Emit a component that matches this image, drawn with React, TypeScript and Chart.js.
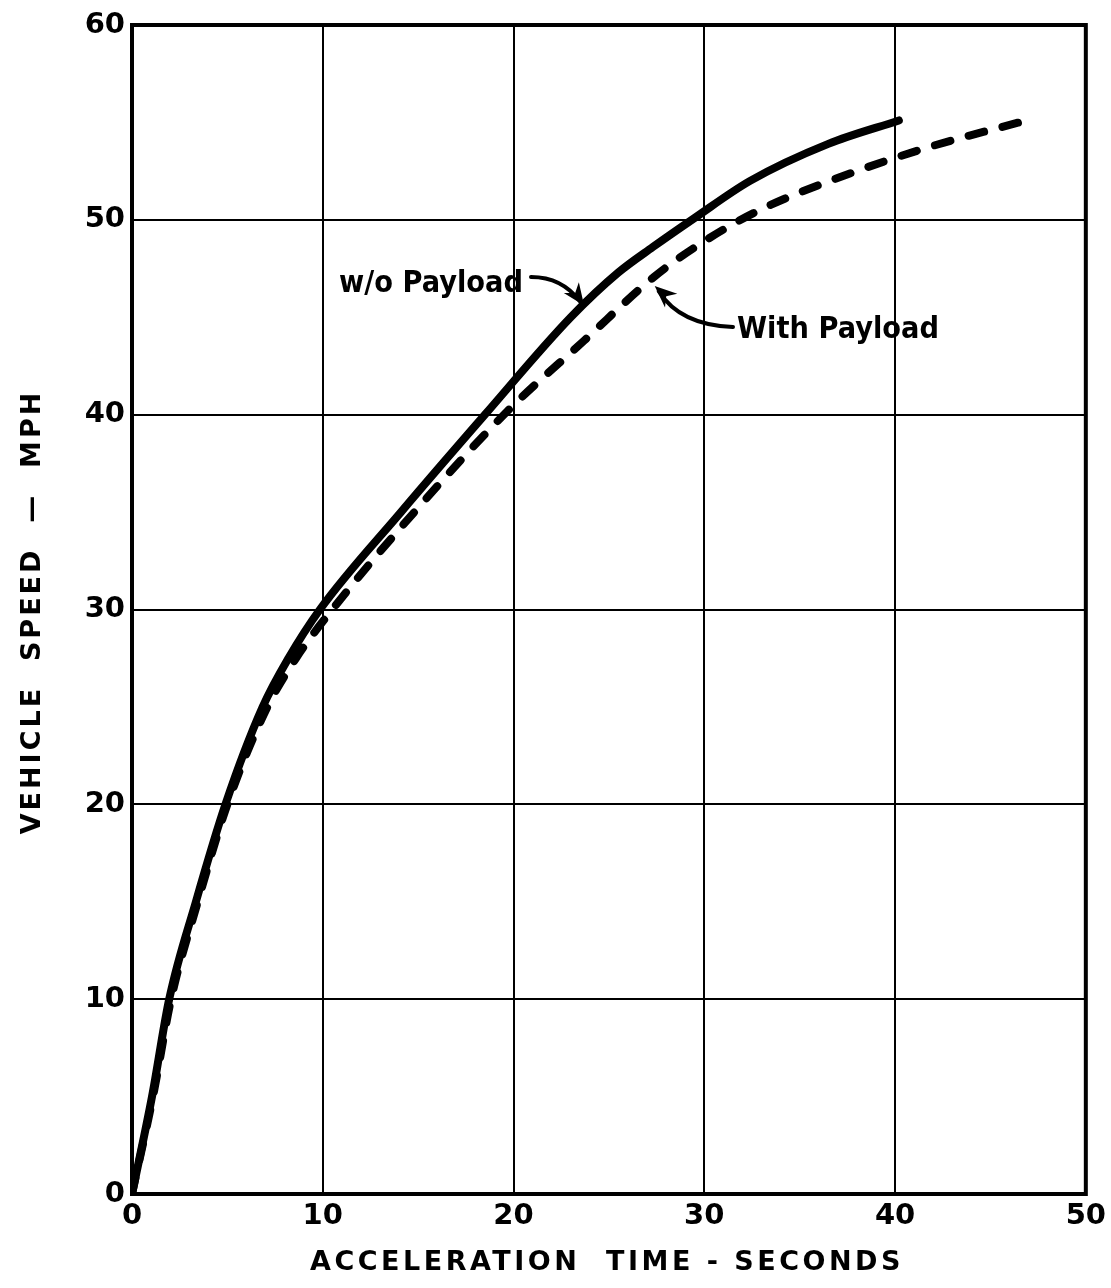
import React, { useEffect, useRef } from "react";
import { Chart, registerables } from "chart.js";

Chart.register(...registerables);

// Without payload (solid)
const timeNoPayload = [0, 1.05, 1.95, 3.35, 4.9, 6.85, 8.2, 9.85, 14.1, 18.5, 23, 25.5, 27.3, 29.5, 32.4, 36.5, 40.2];
const speedNoPayload = [0, 5, 10, 15, 20, 25, 27.5, 30, 35, 40, 45, 47.3, 48.6, 50.1, 52, 53.9, 55.1];

// With payload (dashed)
const timeWithPayload = [0, 1.1, 2.05, 3.45, 5.0, 7.1, 8.6, 10.5, 14.8, 19.7, 23.7, 27.4, 30, 32.9, 37.7, 42, 46.5];
const speedWithPayload = [0, 5, 10, 15, 20, 25, 27.5, 30, 35, 40.2, 43.8, 47.1, 48.9, 50.5, 52.4, 53.8, 55.0];

const xTicks = [0, 10, 20, 30, 40, 50];
const yTicks = [0, 10, 20, 30, 40, 50, 60];

const xTitle = "ACCELERATION  TIME - SECONDS";
const yTitle = "VEHICLE  SPEED  —  MPH";
const labelNoPayload = "w/o Payload";
const labelWithPayload = "With Payload";

const FONT = "'DejaVu Sans', sans-serif";

function drawArrowHead(ctx: CanvasRenderingContext2D, x: number, y: number, angle: number, size: number) {
  ctx.save();
  ctx.translate(x, y);
  ctx.rotate(angle);
  ctx.beginPath();
  ctx.moveTo(0, 0);
  ctx.lineTo(-size, -size * 0.42);
  ctx.lineTo(-size * 0.7, 0);
  ctx.lineTo(-size, size * 0.42);
  ctx.closePath();
  ctx.fill();
  ctx.restore();
}

function drawNarrowText(ctx: CanvasRenderingContext2D, text: string, x: number, y: number, sx: number) {
  ctx.save();
  ctx.translate(x, y);
  ctx.scale(sx, 1);
  ctx.fillText(text, 0, 0);
  ctx.restore();
}

const decorPlugin = {
  id: "decor",
  afterDraw(chart: any) {
    const ctx: CanvasRenderingContext2D = chart.ctx;
    const xs = chart.scales.x;
    const ys = chart.scales.y;
    const area = chart.chartArea;
    ctx.save();
    // frame
    ctx.strokeStyle = "#000";
    ctx.lineWidth = 4;
    ctx.strokeRect(area.left, area.top, area.right - area.left, area.bottom - area.top);

    ctx.fillStyle = "#000";
    ctx.font = `bold 27px ${FONT}`;
    (ctx as any).letterSpacing = "3.5px";
    ctx.textBaseline = "middle";
    ctx.textAlign = "center";
    ctx.fillText(xTitle, 607, 1263);

    (ctx as any).letterSpacing = "3px";
    ctx.save();
    ctx.translate(33, 612);
    ctx.rotate(-Math.PI / 2);
    ctx.fillText(yTitle, 0, 0);
    ctx.restore();

    // annotations
    ctx.font = `bold 31px ${FONT}`;
    (ctx as any).letterSpacing = "0px";
    ctx.textAlign = "left";
    ctx.textBaseline = "alphabetic";
    drawNarrowText(ctx, labelNoPayload, 339, 292, 0.88);
    drawNarrowText(ctx, labelWithPayload, 737, 338, 0.88);

    // arrow 1: from text to solid curve
    const a1x = xs.getPixelForValue(23.7);
    const a1y = ys.getPixelForValue(45.6);
    ctx.lineWidth = 4;
    ctx.lineCap = "round";
    ctx.beginPath();
    ctx.moveTo(531, 277);
    ctx.quadraticCurveTo(562, 277, a1x - 4, a1y - 4);
    ctx.stroke();
    drawArrowHead(ctx, a1x, a1y, Math.atan2(a1y - 283, a1x - 568), 22);

    // arrow 2: from text to dashed curve
    const a2x = xs.getPixelForValue(27.4);
    const a2y = ys.getPixelForValue(46.6);
    ctx.beginPath();
    ctx.moveTo(733, 327);
    ctx.quadraticCurveTo(680, 325, a2x + 4, a2y + 5);
    ctx.stroke();
    drawArrowHead(ctx, a2x, a2y, Math.atan2(a2y - 305, a2x - 676), 22);
    ctx.restore();
  },
};

export default function App() {
  const ref = useRef<HTMLCanvasElement | null>(null);
  useEffect(() => {
    document.body.style.margin = "0";
    const canvas = ref.current;
    if (!canvas) return;
    const chart = new Chart(canvas, {
      type: "line",
      data: {
        datasets: [
          {
            label: "w/o Payload",
            data: timeNoPayload.map((t, i) => ({ x: t, y: speedNoPayload[i] })),
            borderColor: "#000",
            borderWidth: 8,
            pointRadius: 0,
            cubicInterpolationMode: "monotone",
            borderCapStyle: "round",
            borderJoinStyle: "round",
            fill: false,
          },
          {
            label: "With Payload",
            data: timeWithPayload.map((t, i) => ({ x: t, y: speedWithPayload[i] })),
            borderColor: "#000",
            borderWidth: 8,
            borderDash: [16, 19],
            borderCapStyle: "round",
            pointRadius: 0,
            cubicInterpolationMode: "monotone",
            fill: false,
          },
        ],
      },
      options: {
        animation: false,
        responsive: false,
        maintainAspectRatio: false,
        layout: { padding: { left: 0, top: 25, right: 24, bottom: 0 } },
        plugins: {
          legend: { display: false },
          tooltip: { enabled: false },
        },
        scales: {
          x: {
            type: "linear",
            min: 0,
            max: 50,
            afterBuildTicks: (s: any) => {
              s.ticks = xTicks.map((v) => ({ value: v }));
            },
            afterFit: (s: any) => {
              s.height = 94;
            },
            grid: { color: "#000", lineWidth: 2, drawTicks: false },
            border: { display: false },
            ticks: {
              color: "#000",
              font: { family: FONT, size: 29, weight: "bold" },
              padding: 5,
              maxRotation: 0,
            },
          },
          y: {
            type: "linear",
            min: 0,
            max: 60,
            afterBuildTicks: (s: any) => {
              s.ticks = yTicks.map((v) => ({ value: v }));
            },
            afterFit: (s: any) => {
              s.width = 132;
            },
            grid: { color: "#000", lineWidth: 2, drawTicks: false },
            border: { display: false },
            ticks: {
              color: "#000",
              font: { family: FONT, size: 29, weight: "bold" },
              padding: 7,
            },
          },
        },
      },
      plugins: [decorPlugin],
    });
    return () => chart.destroy();
  }, []);
  return (
    <div style={{ width: 1111, height: 1288, background: "#fff" }}>
      <canvas ref={ref} width={1111} height={1288} style={{ display: "block", width: 1111, height: 1288 }} />
    </div>
  );
}
